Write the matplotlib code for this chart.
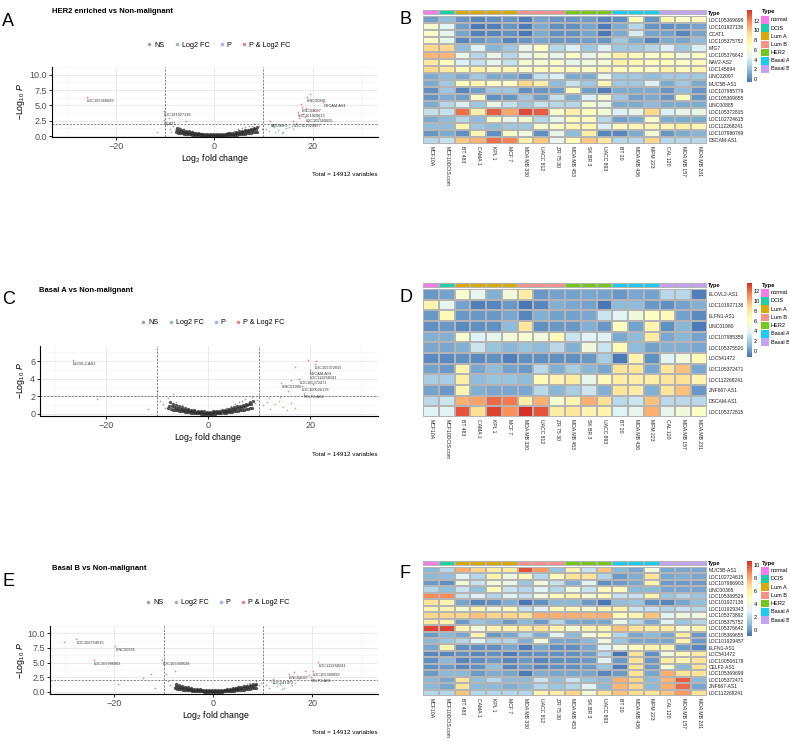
import numpy as np
import matplotlib
matplotlib.use('Agg')
import matplotlib.pyplot as plt
from matplotlib.colors import LinearSegmentedColormap, ListedColormap
from matplotlib.lines import Line2D
from matplotlib.patches import Rectangle

# ---------------- data ----------------
cell_lines = ['MCF10A', 'MCF10DCIS.com', 'BT 483', 'CAMA 1', 'KPL 1', 'MCF 7',
              'MDA MB 330', 'UACC 812', 'ZR 75 30', 'MDA MB 453', 'SK BR 3',
              'UACC 893', 'BT 20', 'MDA MB 436', 'MFM 223', 'CAL 120',
              'MDA MB 157', 'MDA MB 231']
type_names = ['normal', 'DCIS', 'Lum A', 'Lum B', 'HER2', 'Basal A', 'Basal B']
line_type = [0, 1, 2, 2, 2, 2, 3, 3, 3, 4, 4, 4, 5, 5, 5, 6, 6, 6]

rows_B = ['LOC105369699', 'LOC101927136', 'CCAT1', 'LOC105375752', 'MIG7',
          'LOC105376642', 'NAV2-AS2', 'LOC145694', 'LINC02097', 'MUC5B-AS1',
          'LOC107985779', 'LOC105369655', 'LINC00885', 'LOC105372815',
          'LOC102724615', 'LOC112268241', 'LOC107986769', 'DSCAM-AS1']
expr_B = [
    [0.8, 1.8, 0.5, 0.0, 0.3, 0.5, -0.2, 1.0, 0.5, 0.5, 0.7, 0.0, 0.3, 7.0, 0.5, 7.5, 6.5, 7.0],
    [6.0, 4.5, 0.8, -0.4, -0.2, 0.5, -0.4, 1.2, 0.3, 0.3, 1.0, -0.4, 1.2, 3.0, 0.5, 0.3, 0.5, 1.0],
    [6.5, 5.0, 1.0, -0.2, 0.0, 0.3, -0.5, 1.2, 0.3, 0.3, 1.0, -0.4, 1.2, 4.0, 1.0, 0.8, 0.0, 1.0],
    [6.5, 5.0, 0.0, 0.5, 1.0, 0.0, 0.5, 1.0, 0.5, 0.5, 0.8, 0.5, 2.3, 1.2, 0.0, 1.2, 1.0, 1.8],
    [9.5, 9.5, 1.8, 4.2, 1.5, 2.3, 5.0, 6.5, 3.0, 4.2, 2.3, 4.2, 2.3, 2.3, 3.0, 4.2, 2.3, 4.2],
    [10.5, 10.5, 5.0, 3.0, 5.0, 3.0, 5.0, 6.0, 5.0, 6.5, 5.0, 6.0, 8.0, 7.0, 6.5, 7.0, 5.5, 6.5],
    [8.5, 7.0, 4.2, 3.5, 5.0, 3.5, 6.0, 6.0, 6.5, 5.0, 5.5, 6.0, 8.0, 7.5, 7.0, 7.0, 6.5, 7.0],
    [9.5, 8.5, 7.0, 8.0, 7.0, 7.5, 6.5, 7.0, 7.0, 7.0, 6.5, 7.5, 7.0, 7.0, 6.5, 8.0, 7.0, 7.5],
    [1.2, 1.8, 1.2, 2.3, 1.2, 1.2, 0.5, 3.5, 4.2, 1.2, 1.2, 5.0, 2.3, 2.3, 1.8, 2.3, 2.3, 2.3],
    [1.2, 2.3, 7.0, 7.5, 6.5, 6.5, 9.5, 8.0, 1.8, 3.5, 2.3, 7.5, 2.3, 2.3, 4.2, 1.2, 2.3, 1.2],
    [0.3, 2.3, 0.0, 0.8, 2.3, 2.3, 0.3, 0.5, 0.8, 7.0, 0.8, -0.2, 1.2, 1.2, 1.2, 0.5, 1.8, 0.5],
    [0.5, 1.2, 0.8, 6.5, 0.3, 0.5, 2.3, 0.8, 3.5, 1.2, 4.2, 6.0, 2.3, 0.8, 1.2, 0.5, 7.0, 0.5],
    [1.2, 3.0, 4.2, 2.3, 5.0, 3.5, 2.3, 3.5, 3.0, 3.0, 6.0, 5.0, 1.2, 1.2, 1.8, 1.2, 1.2, 1.2],
    [3.5, 3.5, 12.5, 8.0, 13.0, 11.0, 13.5, 13.0, 6.5, 8.0, 7.0, 6.0, 4.2, 5.0, 9.5, 4.2, 5.0, 5.0],
    [1.2, 1.8, 3.0, 1.8, 6.5, 5.0, 6.0, 3.0, 5.0, 7.0, 7.0, 3.0, 0.8, 1.2, 6.5, 1.2, 1.2, 1.2],
    [1.8, 1.8, 7.5, 2.3, 1.8, 2.3, 2.3, 6.0, 6.5, 7.5, 7.5, 4.2, 7.0, 7.5, 7.5, 7.5, 8.0, 7.5],
    [0.5, 1.2, 0.3, 7.5, 0.3, 6.5, 5.5, 0.3, 5.0, 1.8, 8.0, 0.0, 0.0, 1.2, 6.0, 0.5, 1.2, 1.5],
    [3.0, 3.5, 10.0, 10.5, 12.5, 12.0, 8.0, 10.0, 5.0, 7.0, 10.0, 8.5, 3.0, 3.0, 9.5, 3.0, 3.0, 3.0],
]

rows_D = ['ELOVL2-AS1', 'LOC101927136', 'ELFN1-AS1', 'LINC01980', 'LOC107985359',
          'LOC105375520', 'LOC541472', 'LOC105372471', 'LOC112268241',
          'ZNF667-AS1', 'DSCAM-AS1', 'LOC105372815']
expr_D = [
    [0.0, 0.3, 5.5, 4.2, 0.8, 5.0, 7.5, 0.0, 0.3, 0.3, 0.5, 0.3, 0.0, 0.5, 0.3, 2.5, 2.5, -0.8],
    [7.0, 4.2, 0.3, -0.8, -0.6, 0.0, -1.1, -0.6, 0.8, 0.5, 0.3, -1.1, 1.2, 1.2, 0.0, -0.3, 0.3, 0.8],
    [0.0, 6.5, 0.0, 0.0, 0.0, 0.5, -0.6, 0.8, 0.3, 0.3, 0.5, 3.0, 3.8, 5.0, 6.0, 6.5, 0.3, -0.5],
    [-0.3, 0.0, -0.5, -0.3, -0.3, 1.2, 8.0, -0.3, 0.0, 0.0, 0.8, 0.0, 6.0, 0.3, 7.0, -0.3, 1.0, -1.0],
    [0.8, 0.8, 5.5, 3.8, 4.2, 5.0, 5.5, 5.0, 6.5, 3.0, 3.8, 3.8, 0.5, 1.2, 7.5, 0.5, 1.0, 0.3],
    [0.5, 0.5, 0.8, 3.0, 1.5, 1.0, 1.5, 1.2, 2.5, 0.8, 5.0, 3.0, 6.5, 1.2, 0.3, 0.8, 0.8, 0.5],
    [-0.5, -0.5, -0.3, -0.5, -0.3, -0.8, -0.3, -0.3, -0.3, -0.3, 0.0, 2.0, -1.0, 7.0, -0.3, 3.8, 5.0, 6.5],
    [0.3, 0.0, 7.0, 0.5, 1.2, 0.3, 0.0, 2.5, 0.8, 2.0, 1.0, 0.5, 8.0, 8.0, 0.5, 8.0, 9.5, 0.5],
    [2.0, 2.0, 7.5, 1.2, 1.5, 1.5, 1.2, 6.5, 7.0, 7.5, 4.2, 6.5, 7.5, 7.5, 7.5, 8.0, 8.5, 7.0],
    [0.3, 0.0, 7.0, 0.8, 0.5, 0.5, 0.5, 2.5, 1.0, 2.0, 3.0, 0.8, 8.0, 7.5, 0.8, 8.0, 9.5, 0.0],
    [2.5, 3.0, 10.0, 10.5, 12.0, 11.5, 7.5, 10.0, 5.5, 7.0, 10.0, 8.5, 2.5, 3.0, 9.5, 2.5, 2.5, 2.5],
    [3.8, 3.8, 12.5, 8.5, 13.0, 11.0, 13.5, 12.5, 7.5, 8.0, 7.0, 7.0, 3.8, 4.2, 10.0, 4.2, 5.0, 5.8],
]

rows_F = ['MUC5B-AS1', 'LOC102724615', 'LOC107986903', 'LINC00365', 'LOC105369529',
          'LOC101927136', 'LOC101929343', 'LOC105373862', 'LOC105375752',
          'LOC105376642', 'LOC105369655', 'LOC101929457', 'ELFN1-AS1', 'LOC541472',
          'LOC100506178', 'CELF2-AS1', 'LOC105369699', 'LOC105372471',
          'ZNF667-AS1', 'LOC112268241']
expr_F = [
    [0.8, 1.8, 8.0, 7.0, 6.0, 6.0, 10.0, 8.5, 1.2, 5.5, 2.3, 7.5, 0.8, 0.3, 3.8, 0.3, 0.3, 0.3],
    [0.8, 1.0, 3.0, 1.8, 5.5, 3.8, 5.0, 1.8, 5.0, 6.5, 6.5, 1.8, 0.0, 0.5, 6.5, 0.3, 0.5, 0.3],
    [0.0, -0.3, 3.8, 2.3, 4.2, 3.5, 1.2, 3.8, 2.3, 0.5, 3.0, -0.3, 0.0, 0.3, 5.5, 0.0, 0.0, 0.0],
    [1.8, 1.0, 2.3, 1.0, 5.0, 2.3, 1.8, 3.0, 1.8, 3.8, 2.3, 5.0, 5.0, 0.8, 0.8, 0.3, 0.3, 0.3],
    [8.8, 8.8, 2.3, 3.0, 1.8, 3.0, 2.3, 3.8, 5.0, 5.5, 4.2, 5.0, 2.3, 2.3, 5.5, 1.2, 1.8, 1.2],
    [6.5, 5.5, 0.3, -0.5, -0.3, 0.5, -0.9, -0.3, 0.8, 0.8, 0.0, -0.9, 1.0, 1.2, -0.3, -0.5, 0.3, 1.0],
    [5.5, 5.5, 4.2, 5.5, 3.8, 5.0, 2.3, 3.0, 5.0, 5.0, 4.2, 5.5, 5.5, 2.3, 2.3, 1.8, 2.3, 1.8],
    [7.0, 7.0, 7.0, 7.5, 7.0, 7.0, 6.5, 8.0, 8.0, 8.0, 7.8, 8.0, 5.0, 5.5, 7.5, 3.0, 3.8, 3.8],
    [6.0, 5.5, 0.0, 1.2, 0.8, 0.0, 0.8, 0.0, 1.8, 0.3, 0.3, 0.3, 3.5, 1.8, 0.3, 3.0, 1.2, 1.8],
    [10.3, 10.3, 5.5, 3.8, 5.5, 5.5, 6.0, 6.5, 5.5, 4.2, 5.5, 5.5, 7.5, 6.5, 6.0, 6.0, 4.2, 5.5],
    [0.0, 0.8, 0.3, 5.5, 0.0, 0.3, 1.8, 0.5, 3.0, 0.8, 3.8, 5.0, 1.8, 0.3, 0.8, 0.3, 6.0, 0.0],
    [0.8, 1.2, 1.8, 3.0, 1.8, 1.8, 0.5, 3.8, 0.3, 0.3, 0.8, 3.8, 1.2, 0.3, 0.3, 0.3, 5.5, 0.0],
    [0.3, 5.5, -0.3, -0.3, -0.3, 0.3, -0.8, 0.3, -0.3, -0.3, 0.3, 3.0, 3.8, 5.0, 5.5, 5.5, 0.0, -0.5],
    [-0.5, -0.5, -0.3, -0.5, -0.3, -0.8, -0.3, -0.3, -0.3, -0.3, 0.0, 1.8, -1.0, 6.5, -0.3, 3.8, 5.0, 6.0],
    [-0.3, 0.8, -0.5, -0.3, 0.0, -0.5, 0.0, -0.5, -0.3, -0.3, 0.0, 3.0, 0.0, 6.5, 0.0, 6.0, 5.5, 6.5],
    [-0.3, 0.0, -0.5, -0.3, 1.0, -0.5, 0.0, -0.5, -0.3, -0.3, 0.0, 1.2, -0.8, 6.5, 0.0, 4.2, 0.8, 6.5],
    [0.0, 0.8, 0.8, 0.0, 0.5, 0.3, -0.8, 0.5, 0.3, 0.3, 0.3, -0.5, 0.0, 6.5, 0.3, 8.0, 6.5, 6.5],
    [0.8, 0.3, 6.5, 1.0, 1.8, 0.8, 0.8, 2.3, 1.0, 2.3, 1.2, 0.8, 8.0, 7.0, 0.8, 7.8, 9.8, 0.8],
    [0.8, 0.3, 6.5, 0.8, 0.8, 0.5, 0.8, 1.8, 1.2, 1.8, 3.0, 0.8, 7.8, 7.0, 0.8, 8.0, 9.5, 0.3],
    [1.8, 1.8, 7.5, 1.8, 1.8, 1.8, 1.8, 5.5, 6.0, 7.0, 4.2, 6.5, 7.5, 6.8, 6.5, 7.5, 8.5, 6.5],
]

# volcano: dense non-significant core (shared look across the three comparisons)
core_x = [-7.8, -7.4, -7.0, -6.6, -6.2, -5.8, -5.4, -5.0, -4.6, -4.2, -3.8, -3.4, -3.0, -2.6,
          -2.2, -1.8, -1.4, -1.0, -0.6, -0.2, 0.2, 0.6, 1.0, 1.4, 1.8, 2.2, 2.6, 3.0, 3.4, 3.8,
          4.2, 4.6, 5.0, 5.4, 5.8, 6.2, 6.6, 7.0, 7.4, 7.8, 8.2, 8.6,
          -7.6, -7.2, -6.8, -6.4, -6.0, -5.6, -5.2, -4.8, -4.4, -4.0, -3.6, -3.2, -2.8, -2.4,
          -2.0, -1.6, -1.2, -0.8, -0.4, 0.0, 0.4, 0.8, 1.2, 1.6, 2.0, 2.4, 2.8, 3.2, 3.6, 4.0,
          4.4, 4.8, 5.2, 5.6, 6.0, 6.4, 6.8, 7.2, 7.6, 8.0, 8.4,
          -7.5, -6.9, -6.3, -5.7, -5.1, -4.5, -3.9, -3.3, -2.7, -2.1, -1.5, -0.9, -0.3, 0.3,
          0.9, 1.5, 2.1, 2.7, 3.3, 3.9, 4.5, 5.1, 5.7, 6.3, 6.9, 7.5, 8.1, 8.7]
core_y = [0.62, 0.55, 0.5, 0.44, 0.4, 0.36, 0.32, 0.28, 0.25, 0.21, 0.18, 0.15, 0.13, 0.1,
          0.08, 0.06, 0.05, 0.03, 0.02, 0.01, 0.01, 0.02, 0.03, 0.05, 0.06, 0.08, 0.1, 0.13,
          0.15, 0.18, 0.21, 0.25, 0.28, 0.32, 0.36, 0.4, 0.45, 0.5, 0.55, 0.6, 0.66, 0.72,
          0.95, 0.86, 0.8, 0.72, 0.66, 0.6, 0.55, 0.5, 0.45, 0.4, 0.36, 0.32, 0.29, 0.26,
          0.23, 0.2, 0.18, 0.16, 0.15, 0.14, 0.15, 0.16, 0.18, 0.2, 0.23, 0.26, 0.29, 0.33,
          0.37, 0.42, 0.47, 0.52, 0.58, 0.64, 0.7, 0.77, 0.84, 0.92, 1.0, 1.08, 1.15,
          1.3, 1.15, 1.0, 0.85, 0.75, 0.66, 0.57, 0.48, 0.42, 0.36, 0.32, 0.29, 0.27, 0.27,
          0.29, 0.32, 0.37, 0.43, 0.5, 0.58, 0.66, 0.75, 0.85, 0.95, 1.06, 1.18, 1.3, 1.42]

# panel A: HER2 enriched
ns_x_A = [-11.6, -9.6, -9.1, -8.7, -8.3, -8.0, -7.6, -7.2, -6.7, -6.2, -5.7, -5.2, -4.6, -3.9, -2.8,
          3.1, 4.0, 4.8, 5.6, 6.3, 7.0, 7.6, 8.1, 8.7, 9.2, 9.7, -9.3, -5.8]
ns_y_A = [0.6, 1.9, 1.2, 0.7, 1.6, 1.0, 0.9, 1.4, 0.7, 1.1, 0.9, 0.6, 0.8, 0.7, 0.5,
          0.7, 0.9, 1.1, 1.3, 1.5, 1.6, 1.7, 1.9, 1.3, 1.6, 1.1, 2.9, 2.5]
fc_x_A = [10.6, 11.2, 11.8, 12.3, 12.9, 13.4, 14.0, 14.6, 15.3, 16.0, 10.9, 12.1, 13.8, 15.8]
fc_y_A = [1.2, 0.8, 1.6, 0.6, 1.0, 1.8, 0.7, 1.3, 1.5, 1.1, 1.9, 1.4, 0.5, 1.7]
sig_x_A = [17.3, 18.1, 18.7, 19.5, 20.3, 17.6, 19.0, 16.6, 21.2]
sig_y_A = [2.9, 3.6, 4.6, 6.9, 4.2, 5.2, 2.4, 2.2, 3.0]
genes_A = ['LOC105369699', 'LOC101927136', 'CCAT1', 'LINC00885', 'DSCAM-AS1', 'LINC02097',
           'LOC101929613', 'LOC105369655', 'MIR22HG', 'LOC101929457']
genes_fc_A = [-25.9, -10.3, -10.2, 18.8, 22.2, 17.8, 17.0, 18.5, 11.4, 16.1]
genes_p_A = [6.4, 4.1, 2.6, 6.4, 5.6, 4.8, 3.9, 3.1, 2.4, 2.4]

# panel C: Basal A
ns_x_C = [-21.8, -11.9, -10.0, -9.4, -8.9, -8.4, -7.9, -7.4, -6.9, -6.4, -5.8, -5.2, -4.5, -3.7,
          3.5, 4.4, 5.3, 6.0, 6.7, 7.3, 7.9, 8.5, 9.1, 9.6, -7.0]
ns_y_C = [1.7, 0.6, 2.6, 1.5, 1.1, 0.7, 1.8, 1.2, 0.9, 1.4, 0.8, 1.0, 0.6, 0.5,
          0.7, 0.9, 1.1, 1.3, 1.5, 1.7, 1.4, 1.9, 1.2, 1.6, 2.3]
fc_x_C = [10.7, 11.5, 12.2, 13.0, 13.8, 14.6, 15.5, 16.3, 11.9, 14.1, 17.0]
fc_y_C = [1.0, 1.4, 0.6, 1.1, 1.5, 0.8, 0.5, 1.2, 1.8, 1.9, 0.7]
sig_x_C = [19.6, 17.0, 21.1, 16.2, 15.6, 18.8, 20.5]
sig_y_C = [6.1, 5.3, 6.0, 3.9, 2.6, 2.2, 3.4]
genes_C = ['ELOVL2-AS1', 'LOC105372815', 'DSCAM-AS1', 'LOC112268241', 'LOC105372471',
           'LINC01980', 'LOC100506178', 'CELF2-AS1']
genes_fc_C = [-26.6, 20.9, 19.9, 19.9, 17.9, 14.3, 18.3, 18.7]
genes_p_C = [6.1, 5.7, 5.0, 4.6, 4.0, 3.5, 3.2, 2.4]

# panel E: Basal B
ns_x_E = [-19.2, -11.8, -9.6, -9.2, -8.7, -8.3, -7.9, -7.4, -6.8, -6.3, -5.7, -5.1, -4.4, -3.6,
          3.4, 4.3, 5.2, 6.0, 6.8, 7.4, 8.0, 8.6, 9.2, 9.7, -7.8]
ns_y_E = [1.3, 0.7, 3.0, 1.8, 1.2, 2.1, 0.9, 1.5, 0.8, 1.2, 0.9, 0.7, 0.6, 0.5,
          0.6, 0.8, 1.0, 1.2, 1.4, 1.6, 1.3, 1.8, 1.1, 1.5, 3.6]
fc_x_E = [10.6, 11.3, 12.0, 12.8, 13.5, 14.3, 15.1, 16.0, 11.7, 13.9, 16.6]
fc_y_E = [1.2, 0.7, 1.6, 1.0, 1.4, 0.6, 1.8, 1.1, 1.9, 0.5, 1.5]
sig_x_E = [-30.2, -14.2, 17.4, 18.6, 19.3, 16.3, -12.5]
sig_y_E = [8.6, 2.3, 2.4, 3.6, 2.9, 3.4, 3.0]
genes_E = ['LOC102724615', 'LINC00365', 'LOC107986903', 'LOC105369529', 'LOC112268241',
           'LOC105369699', 'LINC02097', 'CELF2-AS1', 'LOC541472']
genes_fc_E = [-27.7, -19.8, -24.1, -10.3, 21.2, 20.1, 15.3, 19.8, 12.0]
genes_p_E = [9.0, 7.9, 5.4, 5.4, 5.1, 3.6, 3.1, 2.6, 2.2]

n_variables = 14912

# ---------------- style ----------------
W, H = 789, 742
plt.rcParams['font.family'] = ['Liberation Sans', 'DejaVu Sans']
plt.rcParams['mathtext.fontset'] = 'custom'
plt.rcParams['mathtext.rm'] = 'Liberation Sans'
plt.rcParams['mathtext.it'] = 'Liberation Sans:italic'

type_colors = ['#F77BEA', '#1DD1A5', '#D9A90A', '#F5918B', '#73C81A', '#17CDF2', '#C3A3F5']
heat_cmap = LinearSegmentedColormap.from_list(
    'pheat', ['#4575B4', '#91BFDB', '#E0F3F8', '#FFFFBF', '#FEE090', '#FC8D59', '#D73027'])
col_ns, col_fc, col_p, col_sig = '#4D4D4D', '#228B22', '#4169E1', '#EE0000'
cell_edge = '#B4B4B4'

fig = plt.figure(figsize=(W / 100, H / 100), dpi=100)


def box(l, t, r, b):
    return fig.add_axes([l / W, 1 - b / H, (r - l) / W, (b - t) / H])


def ftext(x, y, s, **kw):
    fig.text(x / W, 1 - y / H, s, **kw)


def volcano(rect, ylim, yticks, yfmt, ns, fc, sig, genes, leg_y):
    ax = box(*rect)
    ax.set_xlim(-33, 33.3)
    ax.set_ylim(*ylim)
    ax.set_xticks([-20, 0, 20])
    ax.set_xticks([-30, -10, 10, 30], minor=True)
    ax.set_yticks(yticks)
    ax.set_yticklabels([yfmt.format(v) for v in yticks])
    step = yticks[1] - yticks[0]
    ax.set_yticks([v + step / 2 for v in yticks], minor=True)
    ax.grid(which='major', color='#E6E6E6', lw=0.6)
    ax.grid(which='minor', color='#F2F2F2', lw=0.4)
    ax.set_axisbelow(True)
    for s in ['top', 'right']:
        ax.spines[s].set_visible(False)
    for s in ['left', 'bottom']:
        ax.spines[s].set_linewidth(0.8)
    ax.tick_params(which='major', length=2, width=0.6, pad=1.5, labelsize=6.5,
                   labelcolor='#4D4D4D')
    ax.tick_params(which='minor', length=0)

    ax.scatter(core_x, core_y, s=5.5, color='#2E2E2E', alpha=0.8, lw=0)
    ax.scatter(ns[0], ns[1], s=1.5, color=col_ns, alpha=0.5, lw=0)
    ax.scatter(fc[0], fc[1], s=1.5, color=col_fc, alpha=0.5, lw=0)
    ax.scatter(sig[0], sig[1], s=1.5, color=col_sig, alpha=0.5, lw=0)
    names, gx, gy = genes
    ax.scatter(gx, gy, s=1.5, color=col_sig, alpha=0.5, lw=0)
    for name, x, y in zip(names, gx, gy):
        ax.annotate(name, (x, y), xytext=(0, -3), textcoords='offset points',
                    ha='left', va='center', fontsize=2.8, color='#333333')

    for xv in (-10, 10):
        ax.axvline(xv, color='#555555', lw=0.5, ls=(0, (3, 2)))
    ax.axhline(2, color='#555555', lw=0.5, ls=(0, (3, 2)))

    handles = [Line2D([], [], ls='', marker='o', ms=2.6, color=c, alpha=0.5, mew=0)
               for c in (col_ns, col_fc, col_p, col_sig)]
    ax.legend(handles, ['NS', 'Log2 FC', 'P', 'P & Log2 FC'], ncol=4, loc='center',
              bbox_to_anchor=(0.51, leg_y), frameon=False, fontsize=5.2,
              handlelength=0.8, handletextpad=0.3, columnspacing=1.3)
    return ax


def panel_text(letter, lxy, title, txy, xl_xy, yl_xy, cap_y):
    ftext(lxy[0], lxy[1], letter, fontsize=13, ha='left', va='center')
    ftext(txy[0], txy[1], title, fontsize=5.5, fontweight='bold', ha='left', va='center')
    ftext(xl_xy[0], xl_xy[1], r'$\mathrm{Log}_{2}$ fold change', fontsize=6.3,
          ha='center', va='center')
    ftext(yl_xy[0], yl_xy[1], r'$-\mathrm{Log}_{10}\ P$', fontsize=6.3, rotation=90,
          ha='center', va='center')
    ftext(378, cap_y, 'Total = ' + str(n_variables) + ' variables', fontsize=4.6,
          ha='right', va='center')


# volcano A
volcano((52, 67, 378, 137), (-0.15, 10.6), [0, 2.5, 5, 7.5, 10], '{:.1f}',
        (ns_x_A, ns_y_A), (fc_x_A, fc_y_A), (sig_x_A, sig_y_A),
        (genes_A, genes_fc_A, genes_p_A), 1.31)
panel_text('A', (2, 21), 'HER2 enriched vs Non-malignant', (52, 11.5), (215, 158.5),
           (21, 101), 175)

# volcano C
volcano((40, 346, 378, 416), (-0.23, 7.7), [0, 2, 4, 6], '{:.0f}',
        (ns_x_C, ns_y_C), (fc_x_C, fc_y_C), (sig_x_C, sig_y_C),
        (genes_C, genes_fc_C, genes_p_C), 1.33)
panel_text('C', (2, 300), 'Basal A vs Non-malignant', (39, 290), (208, 438), (21, 380), 454)

# volcano E
volcano((50, 626, 378, 694), (-0.36, 10.3), [0, 2.5, 5, 7.5, 10], '{:.1f}',
        (ns_x_E, ns_y_E), (fc_x_E, fc_y_E), (sig_x_E, sig_y_E),
        (genes_E, genes_fc_E, genes_p_E), 1.34)
panel_text('E', (2, 581), 'Basal B vs Non-malignant', (52, 568.5), (216, 716), (21, 660), 733)


# heatmaps
ov = fig.add_axes([0, 0, 1, 1])
ov.set_xlim(0, W)
ov.set_ylim(H, 0)
ov.axis('off')


def heatmap(ann_top, heat_bottom, cb_bottom, mat, rows, vmin, vmax, cticks, letter, letter_y):
    mat = np.array(mat)
    ax_a = box(423, ann_top, 707, ann_top + 5)
    ax_a.pcolormesh(np.array([line_type]), cmap=ListedColormap(type_colors),
                    vmin=-0.5, vmax=6.5, edgecolors=cell_edge, linewidth=0.15)
    ax_a.set_xticks([])
    ax_a.yaxis.tick_right()
    ax_a.set_yticks([0.5])
    ax_a.set_yticklabels(['Type'], fontsize=4.0, fontweight='bold')
    ax_a.tick_params(length=0, pad=1)
    for s in ax_a.spines.values():
        s.set_visible(False)

    ax = box(423, ann_top + 6, 707, heat_bottom)
    mesh = ax.pcolormesh(mat, cmap=heat_cmap, vmin=vmin, vmax=vmax,
                         edgecolors=cell_edge, linewidth=0.15)
    ax.set_ylim(len(rows), 0)
    ax.yaxis.tick_right()
    ax.set_yticks(np.arange(len(rows)) + 0.5)
    ax.set_yticklabels(rows, fontsize=3.6, color='#222222')
    ax.set_xticks(np.arange(len(cell_lines)) + 0.5)
    ax.set_xticklabels(cell_lines, fontsize=3.7, rotation=270, color='#222222')
    ax.tick_params(length=0, pad=1.5)
    for s in ax.spines.values():
        s.set_visible(False)

    cax = box(747, ann_top, 752, cb_bottom)
    cb = fig.colorbar(mesh, cax=cax, ticks=cticks)
    cb.outline.set_visible(False)
    cax.tick_params(labelsize=4, length=0, pad=1.5)

    ov.text(400, letter_y, letter, fontsize=13, ha='left', va='center')
    ov.text(762, ann_top + 2, 'Type', fontsize=4.2, fontweight='bold', ha='left', va='center')
    for i, (name, c) in enumerate(zip(type_names, type_colors)):
        top = ann_top + 6 + i * 8.2
        ov.add_patch(Rectangle((761.5, top), 7.5, 7.6, color=c, lw=0))
        ov.text(771, top + 3.8, name, fontsize=4, ha='left', va='center')


heatmap(10, 144, 82, expr_B, rows_B, -0.6, 14.2, [0, 2, 4, 6, 8, 10, 12], 'B', 20)
heatmap(283, 417, 357, expr_D, rows_D, -1.2, 13.5, [0, 2, 4, 6, 8, 10, 12], 'D', 297)
heatmap(561, 696, 636, expr_F, rows_F, -1.0, 10.7, [0, 2, 4, 6, 8, 10], 'F', 574)

fig.savefig('out.png', dpi=100)
